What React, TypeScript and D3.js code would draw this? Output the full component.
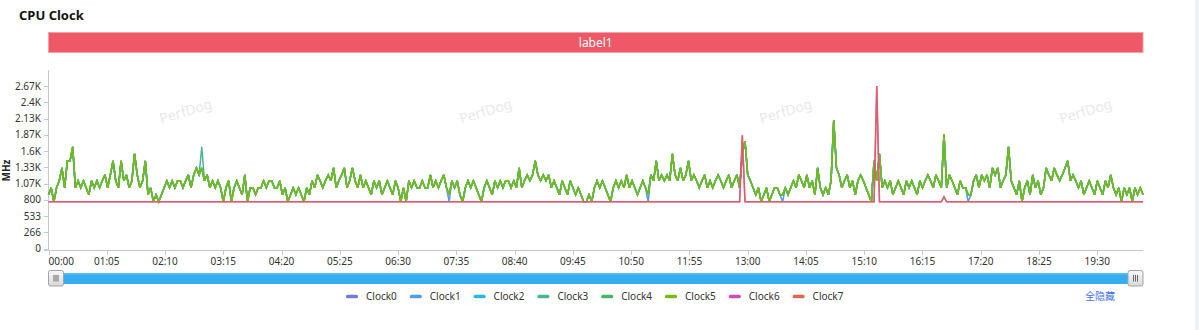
import React from 'react';
import * as d3 from 'd3';

// ---------- data ----------
const chartTitle = 'CPU Clock';
const bandLabel = 'label1';
const yAxisName = 'MHz';
const seriesNames = ['Clock0', 'Clock1', 'Clock2', 'Clock3', 'Clock4', 'Clock5', 'Clock6', 'Clock7'];
const seriesColors = ['#6f7dd8', '#4c9cf8', '#2cb4e6', '#4db396', '#46b36a', '#78bb12', '#cc4cb8', '#e3664f'];
const sampleStepSec = 3;

// Clock0..Clock5 (overlapping clocks), MHz, one value per 3 s
const clockBase = [
  883, 998, 768, 998, 1113, 1324, 998, 1440, 1440, 1670, 998, 1113, 998, 1113, 998, 883, 1113, 998, 1113, 998,
  1113, 1209, 998, 1209, 1440, 1113, 998, 1440, 1113, 1209, 998, 1113, 1555, 1209, 998, 1113, 1440, 883, 998, 768,
  883, 768, 883, 998, 1113, 998, 1113, 998, 1113, 1113, 998, 1113, 1209, 998, 1209, 1324, 1209, 1324, 1113, 1209,
  998, 1113, 998, 1113, 998, 768, 998, 1113, 768, 998, 1113, 998, 883, 1209, 768, 998, 998, 883, 998, 998,
  1113, 998, 1113, 1113, 998, 998, 1113, 883, 998, 768, 883, 998, 883, 998, 883, 768, 998, 883, 1113, 998,
  1209, 1113, 998, 1113, 1209, 1113, 1324, 998, 1113, 1209, 1324, 998, 1113, 1324, 1113, 998, 1209, 998, 1113, 998,
  883, 1113, 998, 1113, 883, 998, 1113, 998, 883, 1113, 998, 768, 998, 768, 1113, 998, 1113, 998, 998, 1113,
  998, 998, 1209, 998, 1113, 998, 1113, 1209, 998, 883, 1113, 998, 1113, 883, 768, 998, 1113, 998, 1113, 998,
  883, 768, 998, 1113, 998, 883, 1113, 998, 1113, 998, 1113, 1113, 998, 1113, 998, 1324, 998, 1113, 1209, 1113,
  1209, 1440, 1209, 1113, 1209, 1113, 1209, 998, 1113, 998, 883, 1113, 998, 883, 1113, 998, 883, 998, 883, 768,
  768, 883, 768, 998, 1113, 998, 1113, 998, 883, 768, 998, 1113, 998, 1113, 998, 1209, 998, 1113, 998, 883,
  998, 1113, 998, 883, 1209, 1113, 1440, 1113, 1209, 1113, 1209, 1113, 1555, 1209, 1113, 1324, 1113, 1209, 1440, 1113,
  1209, 1113, 998, 1113, 1209, 998, 1113, 998, 1113, 1209, 1113, 998, 1113, 1209, 998, 1113, 1209, 998, 1555, 1766,
  1209, 1113, 998, 883, 998, 768, 883, 998, 768, 883, 998, 998, 883, 883, 998, 883, 998, 1113, 998, 1209,
  1113, 998, 1209, 998, 1113, 883, 1324, 998, 883, 998, 883, 1113, 2112, 1324, 1209, 998, 1113, 1209, 998, 1113,
  883, 1113, 1209, 1113, 998, 883, 768, 1440, 1113, 1555, 998, 1113, 998, 1113, 883, 998, 1113, 998, 883, 1113,
  998, 1113, 998, 883, 1113, 998, 1113, 1209, 1113, 998, 1209, 1113, 998, 1882, 998, 1209, 1113, 998, 883, 1113,
  998, 998, 883, 883, 1113, 1209, 998, 1209, 1113, 1209, 998, 1324, 1209, 1324, 998, 1113, 1209, 1670, 1113, 998,
  883, 1113, 768, 998, 1113, 883, 1209, 998, 1113, 883, 998, 1324, 1209, 1113, 1324, 1209, 1113, 1209, 1324, 1440,
  1113, 1209, 1113, 998, 1113, 883, 998, 1113, 998, 883, 1113, 998, 883, 1113, 998, 1209, 998, 883, 998, 768,
  998, 883, 998, 768, 998, 883, 998, 883,
];
// points where individual clocks differ from the shared trace: [sampleIndex, MHz]
const clock1Diffs: [number, number][] = [[149, 768], [223, 768], [273, 768], [342, 768]];
const clock3Diffs: [number, number][] = [[57, 1670]];
// Clock6 / Clock7 sit at a flat floor with a few spikes
const clock67Floor = 768;
const clock67Spikes: [number, number][] = [[258, 1862], [308, 2670], [333, 850]];

const yTickValues = [0, 266.67, 533.33, 800, 1066.67, 1333.33, 1600, 1866.67, 2133.33, 2400, 2666.67];
const yTickLabels = ['0', '266', '533', '800', '1.07K', '1.33K', '1.6K', '1.87K', '2.13K', '2.4K', '2.67K'];
const yMax = 2933.33;
const xTickStepSec = 65;
const watermarkText = 'PerfDog';
const hideAllText = '全隐藏';

// ---------- helpers ----------
function applyDiffs(base: number[], diffs: [number, number][]) {
  const a = base.slice();
  diffs.forEach(([i, v]) => { a[i] = v; });
  return a;
}
const clock67 = applyDiffs(clockBase.map(() => clock67Floor), clock67Spikes);
const seriesData: number[][] = [
  clockBase,
  applyDiffs(clockBase, clock1Diffs),
  clockBase,
  applyDiffs(clockBase, clock3Diffs),
  clockBase,
  clockBase,
  clock67,
  clock67,
];

const W = 1199;
const H = 330;
const plotLeft = 48.5;
const plotRight = 1143;
const plotTop = 70;
const plotBottom = 248.5;
const font = '"Noto Sans", "Open Sans", sans-serif';

function fmtTime(s: number) {
  const m = Math.floor(s / 60);
  const sec = Math.round(s % 60);
  return `${String(m).padStart(2, '0')}:${String(sec).padStart(2, '0')}`;
}

export default function App() {
  const n = clockBase.length;
  const duration = (n - 1) * sampleStepSec;
  const x = d3.scaleLinear().domain([0, duration]).range([plotLeft, plotRight]);
  const y = d3.scaleLinear().domain([0, yMax]).range([plotBottom, plotTop]);
  const line = d3.line<number>()
    .x((_, i) => x(i * sampleStepSec))
    .y((d) => y(d));
  const xTicks = d3.range(0, duration, xTickStepSec);

  const legendStart = 346;
  const legendStep = 63.8;
  const legendY = 296.5;

  const handle = (hx: number) => (
    <g>
      <rect x={hx} y={270.5} width={15} height={15.5} rx={2} fill="url(#hgrad)" stroke="#a3a3a3" strokeWidth={1} />
      {[-2, 0, 2].map((dx) => (
        <line key={dx} x1={hx + 7.5 + dx} x2={hx + 7.5 + dx} y1={275} y2={281.5} stroke="#666" strokeWidth={1} />
      ))}
    </g>
  );

  return (
    <svg width={W} height={H} style={{ position: 'absolute', left: 0, top: 0, background: '#fff' }} fontFamily={font}>
      <defs>
        <linearGradient id="hgrad" x1="0" y1="0" x2="0" y2="1">
          <stop offset="0" stopColor="#f8f8f8" />
          <stop offset="1" stopColor="#d9d9d9" />
        </linearGradient>
      </defs>
      <rect x={0} y={0} width={W} height={H} fill="#fff" />
      <rect x={1195} y={0} width={4} height={H} fill="#eef0f6" />

      {/* title */}
      <text x={19} y={20} fontSize={13} fontWeight="bold" fill="#111">{chartTitle}</text>

      {/* label band */}
      <rect x={48.5} y={32.5} width={1094.5} height={20} fill="#ee5867" stroke="#f4a0a8" strokeWidth={1} />
      <text x={(48.5 + 1143) / 2} y={46.5} fontSize={12} fill="#fff" textAnchor="middle">{bandLabel}</text>

      {/* watermarks */}
      {[186, 486, 786, 1086].map((cx) => (
        <text key={cx} x={cx} y={116} fontSize={14} fill="#e9e9e9" textAnchor="middle"
          transform={`rotate(-17 ${cx} ${112})`}>{watermarkText}</text>
      ))}

      {/* y axis */}
      <line x1={48.5} x2={48.5} y1={plotTop} y2={250.5} stroke="#c5cad6" strokeWidth={1} />
      {yTickValues.map((v, i) => (
        <g key={i}>
          <line x1={44} x2={48.5} y1={Math.round(y(v)) + 0.5} y2={Math.round(y(v)) + 0.5} stroke="#c5cad6" />
          <text x={41} y={y(v) + 3.5} fontSize={10} fill="#333" textAnchor="end">{yTickLabels[i]}</text>
        </g>
      ))}
      <text transform="translate(10 170.5) rotate(-90)" fontSize={10} fontWeight="bold" fill="#222" textAnchor="middle">{yAxisName}</text>

      {/* x axis */}
      <line x1={44} x2={plotRight} y1={250.5} y2={250.5} stroke="#c5cad6" strokeWidth={1} />
      {xTicks.map((t, i) => (
        <g key={t}>
          <line x1={Math.round(x(t)) + 0.5} x2={Math.round(x(t)) + 0.5} y1={250.5} y2={255} stroke="#c5cad6" />
          <text x={x(t)} y={265} fontSize={10} fill="#333" textAnchor={i === 0 ? 'start' : 'middle'}>{fmtTime(t)}</text>
        </g>
      ))}

      {/* series */}
      {seriesData.map((data, si) => (
        <path key={si} d={line(data) || ''} fill="none" stroke={seriesColors[si]}
          strokeWidth={1.5} strokeOpacity={si === 7 ? 0.75 : 1} strokeLinejoin="miter" strokeMiterlimit={3} />
      ))}

      {/* data zoom slider */}
      <rect x={48.5} y={273} width={1094.5} height={11} fill="#35adf0" />
      <rect x={48.5} y={273} width={1094.5} height={1.5} fill="#5cbff5" />
      {handle(48.5)}
      {handle(1128)}

      {/* legend */}
      {seriesNames.map((name, i) => {
        const lx = legendStart + i * legendStep;
        return (
          <g key={name}>
            <rect x={lx} y={legendY - 1.75} width={12} height={3.5} rx={1.5} fill={seriesColors[i]} />
            <text x={lx + 20} y={legendY + 3.5} fontSize={10} fill="#333">{name}</text>
          </g>
        );
      })}
      <text x={1085} y={300} fontSize={10} fill="#3f6ff5" fontFamily='"Noto Sans CJK SC", sans-serif'>{hideAllText}</text>
    </svg>
  );
}
